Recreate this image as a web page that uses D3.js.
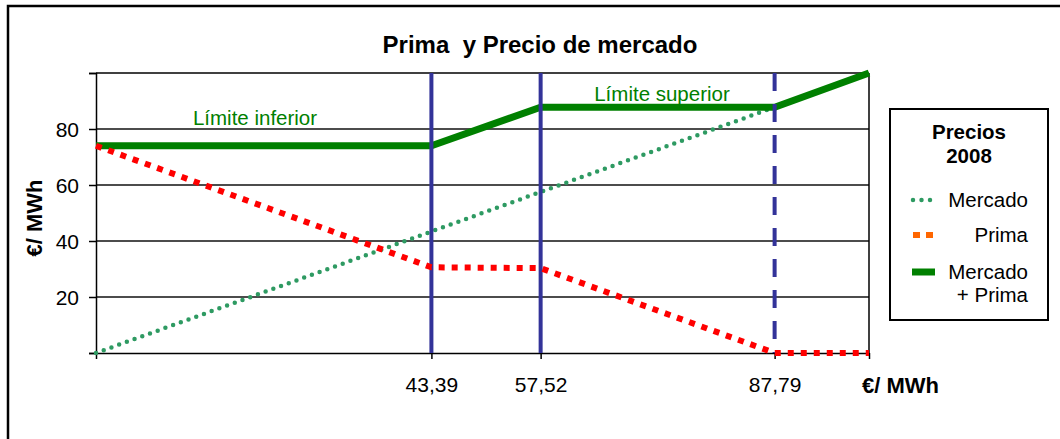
<!DOCTYPE html>
<html>
<head>
<meta charset="utf-8">
<script src="https://cdn.jsdelivr.net/npm/d3@7"></script>
<style>
  body { margin: 0; background: #fff; }
  text { font-family: "Liberation Sans", Arial, sans-serif; }
</style>
</head>
<body>
<script>
// Prima y precio de mercado (2008)

// x positions (market price, €/MWh)
const precios = [0, 43.39, 57.52, 87.79, 100];
const mercado = [0, 43.39, 57.52, 87.79, 100];
const prima = [74, 30.61, 30.3, 0, 0];
const mercadoPrima = [74, 74, 87.79, 87.79, 100];

const limites = [43.39, 57.52, 87.79];
const limiteLabels = ["43,39", "57,52", "87,79"];
const yTicks = [20, 40, 60, 80];

const w = 1060;
const h = 439;

const svg = d3.select("body")
    .append("svg")
    .attr("width", w)
    .attr("height", h);

// outer frame (runs off the bottom/right of the picture)
svg.append("rect")
    .attr("x", 8).attr("y", 6)
    .attr("width", 1100).attr("height", 500)
    .attr("fill", "none")
    .attr("stroke", "#000")
    .attr("stroke-width", 2.5);

const x = d3.scaleLinear().domain([0, 100]).range([96, 869]);
const y = d3.scaleLinear().domain([0, 100]).range([353, 73]);

// title
svg.append("text")
    .attr("x", 540).attr("y", 53)
    .attr("text-anchor", "middle")
    .attr("font-size", 24)
    .attr("font-weight", "bold")
    .attr("xml:space", "preserve")
    .style("white-space", "pre")
    .text("Prima  y Precio de mercado");

// gridlines
svg.selectAll(".grid")
    .data(yTicks)
    .enter()
    .append("line")
    .attr("x1", x(0)).attr("x2", x(100))
    .attr("y1", d => y(d)).attr("y2", d => y(d))
    .attr("stroke", "#111")
    .attr("stroke-width", 1.3);

// plot border top and right
svg.append("line")
    .attr("x1", x(0)).attr("x2", x(100))
    .attr("y1", y(100)).attr("y2", y(100))
    .attr("stroke", "#000").attr("stroke-width", 1.5);
svg.append("line")
    .attr("x1", x(100)).attr("x2", x(100))
    .attr("y1", y(100)).attr("y2", y(0))
    .attr("stroke", "#000").attr("stroke-width", 1.5);

// y axis
const yAxis = d3.axisLeft(y)
    .tickValues([0, 20, 40, 60, 80, 100])
    .tickSize(7)
    .tickFormat(d => (d === 0 || d === 100) ? "" : d);
const gy = svg.append("g")
    .attr("transform", `translate(${x(0)},0)`)
    .call(yAxis);
gy.select(".domain").attr("stroke-width", 1.5);
gy.selectAll(".tick line").attr("stroke-width", 1.5);
gy.selectAll(".tick text")
    .attr("font-size", 21)
    .attr("font-family", "Liberation Sans, Arial, sans-serif")
    .attr("x", -17)
    .attr("dy", "0.36em");

// x axis
const xAxis = d3.axisBottom(x)
    .tickValues(precios)
    .tickSize(6)
    .tickSizeOuter(0)
    .tickFormat(d => {
        const i = limites.indexOf(d);
        return i >= 0 ? limiteLabels[i] : "";
    });
const gx = svg.append("g")
    .attr("transform", `translate(0,${y(0)})`)
    .call(xAxis);
gx.select(".domain").attr("stroke-width", 1.5);
gx.selectAll(".tick line").attr("stroke-width", 1.5);
gx.selectAll(".tick text")
    .attr("font-size", 21)
    .attr("font-family", "Liberation Sans, Arial, sans-serif")
    .attr("y", 24);

// axis titles
svg.append("text")
    .attr("transform", "translate(42,218) rotate(-90)")
    .attr("text-anchor", "middle")
    .attr("font-size", 22)
    .attr("font-weight", "bold")
    .text("€/ MWh");
svg.append("text")
    .attr("x", 862).attr("y", 393)
    .attr("font-size", 22)
    .attr("font-weight", "bold")
    .text("€/ MWh");

const line = d3.line()
    .x(d => x(d[0]))
    .y(d => y(d[1]));

// mercado (dotted)
svg.append("path")
    .datum(precios.map((p, i) => [p, mercado[i]]))
    .attr("d", line)
    .attr("fill", "none")
    .attr("stroke", "#2e9a62")
    .attr("stroke-width", 4.5)
    .attr("stroke-linecap", "round")
    .attr("stroke-dasharray", "0 8.2");

// mercado + prima
svg.append("path")
    .datum(precios.map((p, i) => [p, mercadoPrima[i]]))
    .attr("d", line)
    .attr("fill", "none")
    .attr("stroke", "#008000")
    .attr("stroke-width", 7);

// vertical limit lines
svg.selectAll(".lim")
    .data(limites)
    .enter()
    .append("line")
    .attr("x1", d => x(d)).attr("x2", d => x(d))
    .attr("y1", y(100)).attr("y2", y(0))
    .attr("stroke", "#333399")
    .attr("stroke-width", 4)
    .attr("stroke-dasharray", (d, i) => i === 2 ? "18 13" : null);

// prima (square dots)
svg.append("path")
    .datum(precios.map((p, i) => [p, prima[i]]))
    .attr("d", line)
    .attr("fill", "none")
    .attr("stroke", "#ff0000")
    .attr("stroke-width", 6)
    .attr("stroke-dasharray", "6 7");

// labels
svg.append("text")
    .attr("x", 255).attr("y", 125)
    .attr("text-anchor", "middle")
    .attr("font-size", 20.5)
    .attr("fill", "#008000")
    .text("Límite inferior");
svg.append("text")
    .attr("x", 662).attr("y", 101)
    .attr("text-anchor", "middle")
    .attr("font-size", 20.5)
    .attr("fill", "#008000")
    .text("Límite superior");

// legend
const lg = svg.append("g");
lg.append("rect")
    .attr("x", 890).attr("y", 109)
    .attr("width", 158).attr("height", 211)
    .attr("fill", "#fff")
    .attr("stroke", "#000")
    .attr("stroke-width", 2);
lg.append("text")
    .attr("x", 969).attr("y", 139)
    .attr("text-anchor", "middle")
    .attr("font-size", 20.5)
    .attr("font-weight", "bold")
    .text("Precios");
lg.append("text")
    .attr("x", 969).attr("y", 163)
    .attr("text-anchor", "middle")
    .attr("font-size", 20.5)
    .attr("font-weight", "bold")
    .text("2008");

lg.append("line")
    .attr("x1", 913).attr("x2", 931)
    .attr("y1", 200).attr("y2", 200)
    .attr("stroke", "#2e9a62")
    .attr("stroke-width", 4.5)
    .attr("stroke-linecap", "round")
    .attr("stroke-dasharray", "0 8.5");
lg.append("line")
    .attr("x1", 913).attr("x2", 934)
    .attr("y1", 235).attr("y2", 235)
    .attr("stroke", "#ff6600")
    .attr("stroke-width", 6)
    .attr("stroke-dasharray", "7 6");
lg.append("line")
    .attr("x1", 912).attr("x2", 935)
    .attr("y1", 272).attr("y2", 272)
    .attr("stroke", "#008000")
    .attr("stroke-width", 7);

const legendTexts = [["Mercado", 207], ["Prima", 242], ["Mercado", 279], ["+ Prima", 302]];
lg.selectAll(".lt")
    .data(legendTexts)
    .enter()
    .append("text")
    .attr("x", 1028)
    .attr("y", d => d[1])
    .attr("text-anchor", "end")
    .attr("font-size", 20.5)
    .text(d => d[0]);
</script>
</body>
</html>
